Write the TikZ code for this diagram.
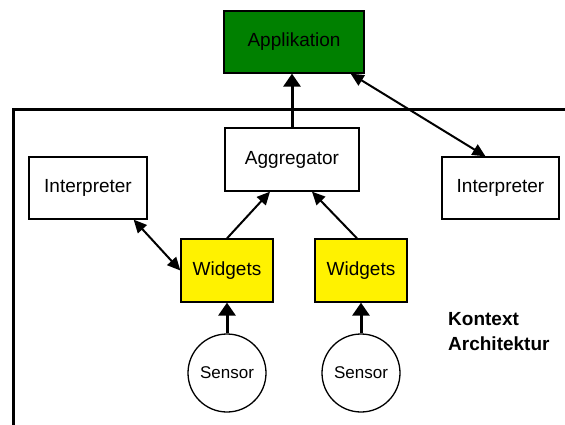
\documentclass[tikz,border=0pt]{standalone}
\usepackage{fontspec}
\setmainfont{Liberation Sans}
\usetikzlibrary{arrows.meta}

\begin{document}
\begin{tikzpicture}[x=1pt,y=-1pt,
box/.style={draw=black,line width=1.3pt,inner sep=0pt,align=center,font=\fontsize{19}{22}\selectfont},
widget/.style={box,fill=yellow,minimum width=92pt,minimum height=63pt},
sensor/.style={box,circle,minimum size=78pt,font=\fontsize{17}{20}\selectfont},
flow/.style={-{Triangle[length=13pt,width=12pt]},line width=2pt},
twoway/.style={{Triangle[length=13pt,width=12pt]}-{Triangle[length=13pt,width=12pt]},line width=2pt},
feed/.style={-{Triangle[length=13pt,width=17pt]},line width=3pt}]
\useasboundingbox (0,0) rectangle (565,425);
\fill[white] (0,0) rectangle (565,425);
% frame of the context architecture
\draw[line width=3pt] (565,110) -| (13,426);
\node[box,fill=green!50!black,minimum width=140pt,minimum height=62pt] (app) at (294,42) {Applikation};
\node[box,fill=white,minimum width=134pt,minimum height=63pt] (agg) at (292,159.5) {Aggregator};
\node[box,fill=white,minimum width=118pt,minimum height=62pt] (interpL) at (88,188) {Interpreter};
\node[box,fill=white,minimum width=117pt,minimum height=62pt] (interpR) at (500.5,188) {Interpreter};
\node[widget] (widgL) at (227,270.5) {Widgets};
\node[widget] (widgR) at (361,270.5) {Widgets};
\node[sensor] (sensL) at (227,373) {Sensor};
\node[sensor] (sensR) at (361,373) {Sensor};
\node[anchor=north west,align=left,inner sep=0pt,font=\fontsize{19}{25}\selectfont\bfseries] (label) at (448,312) {Kontext\\Architektur};
\draw[feed] (agg.north) -- (agg.north |- app.south);
\draw[twoway] ([xshift=-14]app.south east) -- ([xshift=-15]interpR.north);
\draw[twoway] ([xshift=-14]interpL.south east) -- (widgL.west);
\draw[flow] (widgL.north) -- ([xshift=-22]agg.south);
\draw[flow] ([xshift=-4]widgR.north) -- ([xshift=20]agg.south);
\draw[feed] (sensL) -- (widgL);
\draw[feed] (sensR) -- (widgR);
\end{tikzpicture}
\end{document}
